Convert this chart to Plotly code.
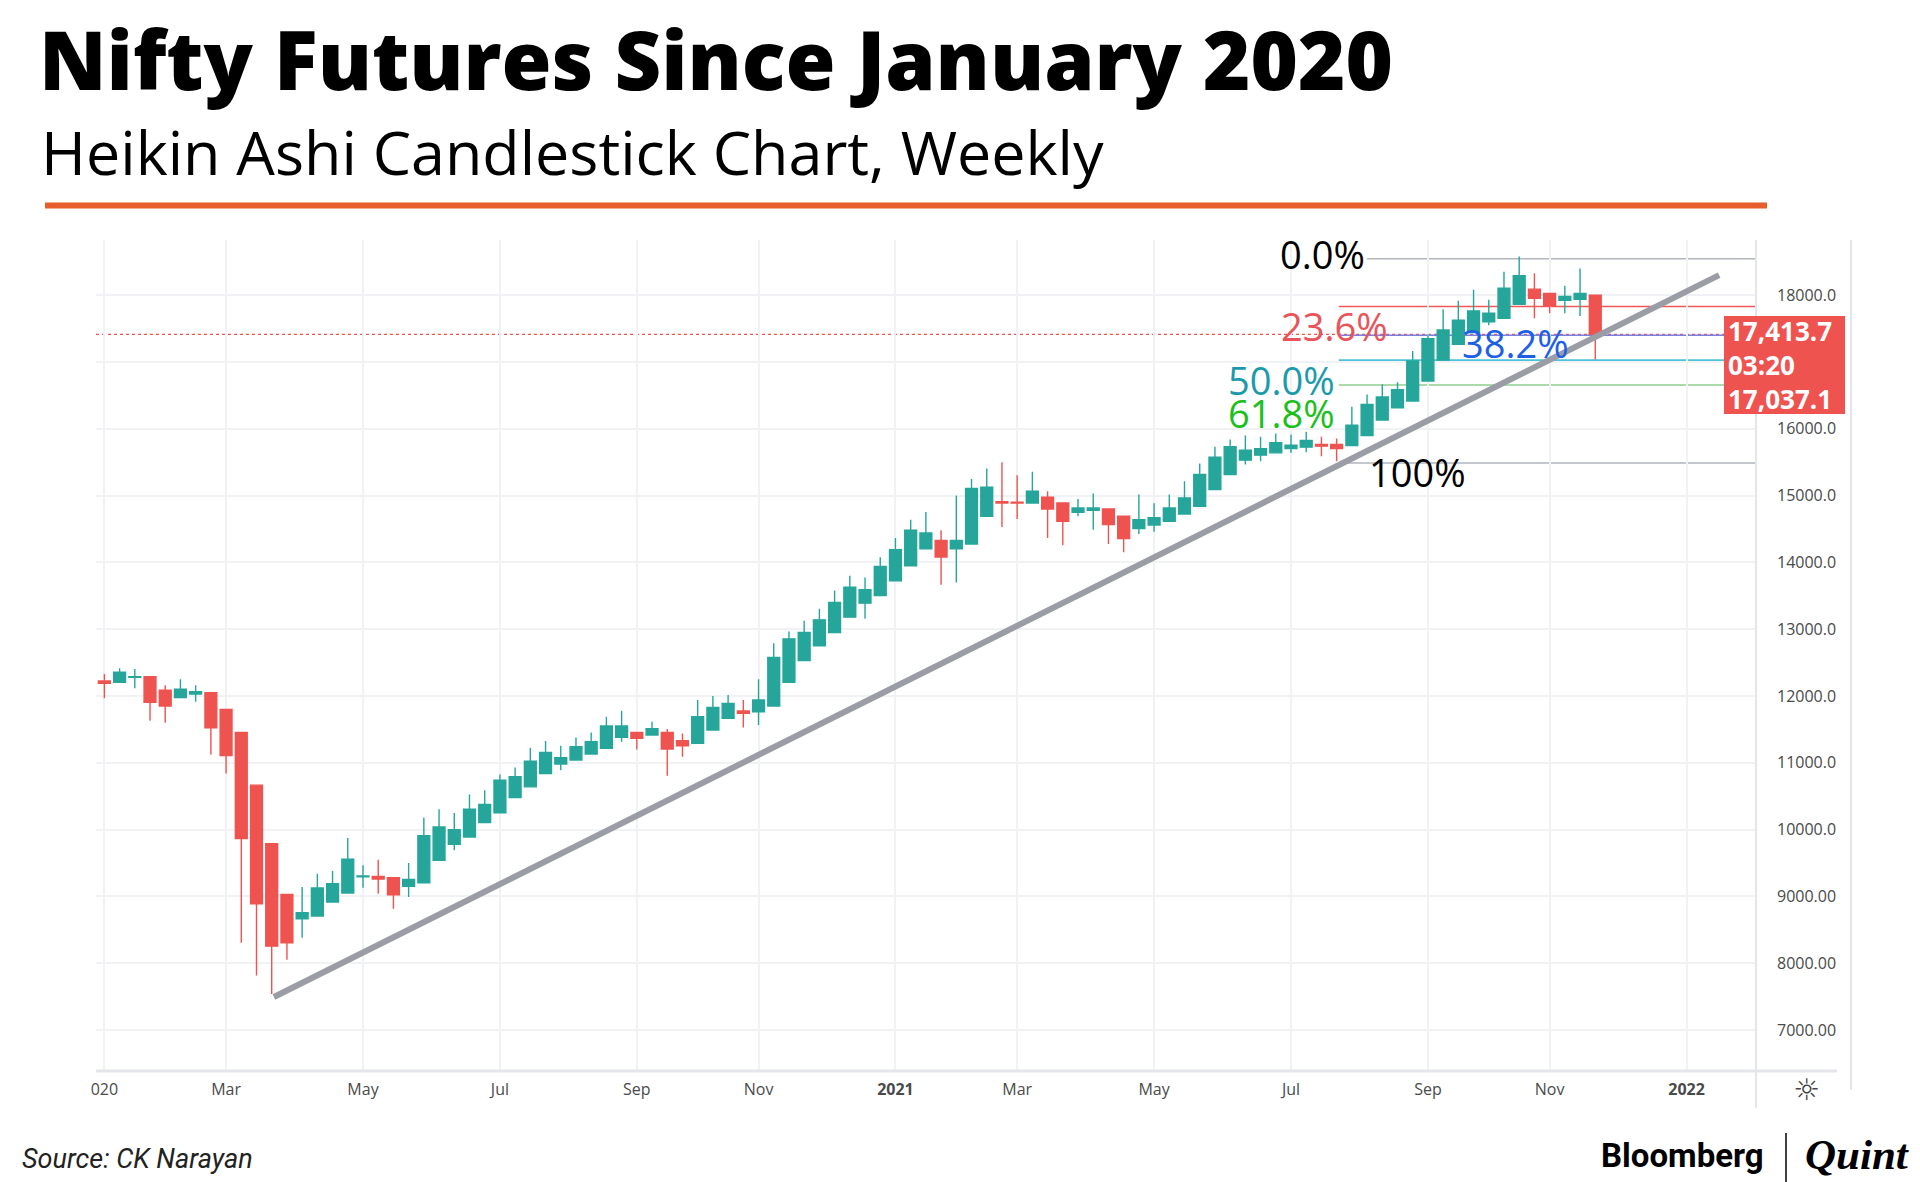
import pandas as pd
import plotly.graph_objects as go

# ---------------- data ----------------
first_week = "2020-01-06"
opens = [12225, 12205, 12280, 12290, 12085, 11975, 12030, 12050, 11800, 11455,
         10665, 9790, 9030, 8665, 8705, 8915, 9050, 9295, 9300, 9280,
         9150, 9205, 9540, 9780, 9890, 10105, 10250, 10480, 10640, 10840,
         10980, 11040, 11130, 11215, 11380, 11455, 11415, 11455, 11330, 11290,
         11490, 11665, 11775, 11765, 11850, 12205, 12530, 12750, 12950, 13180,
         13390, 13505, 13725, 13950, 14205, 14330, 14205, 14275, 14690, 14910,
         14900, 14890, 14975, 14890, 14750, 14780, 14800, 14690, 14505, 14560,
         14615, 14725, 14840, 15090, 15315, 15530, 15605, 15640, 15705, 15725,
         15765, 15765, 15750, 15900, 16130, 16315, 16415, 16715, 17030, 17265,
         17440, 17600, 17655, 17865, 18090, 18025, 17925, 17940, 18000]
highs = [12330, 12415, 12405, 12290, 12160, 12250, 12160, 12050, 11800, 11455,
         10665, 9790, 9030, 9140, 9340, 9380, 9875, 9465, 9550, 9280,
         9500, 10180, 10305, 10250, 10525, 10590, 10825, 10930, 11225, 11325,
         11255, 11380, 11455, 11690, 11780, 11455, 11615, 11505, 11440, 11940,
         12000, 12015, 11940, 12250, 12790, 12965, 13125, 13305, 13580, 13800,
         13775, 14075, 14365, 14640, 14755, 14480, 15000, 15250, 15405, 15500,
         15305, 15355, 15065, 14890, 14950, 15030, 14800, 14690, 15015, 14885,
         15015, 15215, 15480, 15730, 15840, 15900, 15880, 15930, 15915, 15955,
         15880, 15855, 16330, 16515, 16665, 16695, 17165, 17415, 17790, 17915,
         18080, 17930, 18350, 18580, 18330, 18025, 18140, 18400, 18000]
lows = [11965, 12205, 12115, 11630, 11600, 11975, 11915, 11125, 10840, 8305,
        7815, 7540, 8050, 8380, 8705, 8915, 9050, 9130, 9040, 8815,
        8990, 9205, 9540, 9690, 9890, 10105, 10250, 10480, 10640, 10840,
        10890, 11040, 11130, 11215, 11315, 11200, 11415, 10805, 11090, 11290,
        11490, 11665, 11530, 11565, 11850, 12205, 12530, 12750, 12950, 13180,
        13155, 13505, 13725, 13950, 14205, 13665, 13700, 14275, 14690, 14530,
        14650, 14890, 14365, 14255, 14690, 14490, 14275, 14150, 14425, 14460,
        14615, 14725, 14840, 15090, 15315, 15465, 15515, 15640, 15640, 15650,
        15590, 15515, 15750, 15900, 16130, 16315, 16415, 16715, 17030, 17265,
        17440, 17550, 17655, 17865, 17655, 17730, 17730, 17690, 17037.1]
closes = [12190, 12355, 12290, 11905, 11850, 12100, 12065, 11525, 11110, 9865,
          8890, 8255, 8305, 8755, 9125, 9190, 9555, 9305, 9260, 9025,
          9255, 9910, 10040, 10000, 10305, 10375, 10740, 10790, 11025, 11155,
          11075, 11240, 11315, 11550, 11550, 11365, 11510, 11205, 11255, 11690,
          11830, 11890, 11740, 11940, 12575, 12855, 12950, 13140, 13400, 13630,
          13590, 13940, 14190, 14480, 14440, 14080, 14330, 15105, 15125, 14890,
          14890, 15065, 14800, 14615, 14815, 14815, 14565, 14355, 14640, 14670,
          14815, 14965, 15315, 15575, 15730, 15680, 15700, 15790, 15755, 15825,
          15740, 15705, 16055, 16365, 16475, 16585, 17015, 17350, 17480, 17625,
          17765, 17730, 18105, 18290, 17955, 17840, 17980, 18025, 17413.7]

tick_dates = ["2020-01-06", "2020-03-02", "2020-05-04", "2020-07-06", "2020-09-07",
              "2020-11-02", "2021-01-04", "2021-03-01", "2021-05-03", "2021-07-05",
              "2021-09-06", "2021-11-01", "2022-01-03"]
tick_labels = ["020", "Mar", "May", "Jul", "Sep", "Nov", "<b>2021</b>", "Mar", "May",
               "Jul", "Sep", "Nov", "<b>2022</b>"]

price_ticks = [7000, 8000, 9000, 10000, 11000, 12000, 13000, 14000, 15000, 16000, 17000, 18000]
price_tick_labels = ["7000.00", "8000.00", "9000.00", "10000.0", "11000.0", "12000.0",
                     "13000.0", "14000.0", "15000.0", "16000.0", "", "18000.0"]

fib_labels = ["0.0%", "23.6%", "38.2%", "50.0%", "61.8%", "100%"]
fib_values = [18545, 17830, 17400, 17025, 16655, 15488]
fib_start = ["2021-08-09", "2021-07-27", "2021-07-27", "2021-07-27", "2021-07-27", "2021-07-27"]
fib_line_colors = ["#b2b5be", "#f0575c", "#7a7fe0", "#4cc3d9", "#8fcf8f", "#b2b5be"]
fib_text_colors = ["#000000", "#e8545a", "#1d5fe6", "#1a9aac", "#1cbf1c", "#000000"]

trend_dates = ["2020-03-24", "2022-01-18"]
trend_values = [7494, 18300]

last_price = 17413.7
box_lines = ["17,413.7", "03:20", "17,037.1"]

# ---------------- layout helpers (pixel positions) ----------------
W, H = 1920, 1182
L, R, T, B = 96, 1755, 240, 1071


def px(p):
    return (p - L) / (R - L)


def py(p):
    return (B - p) / (B - T)


dates = pd.date_range(first_week, periods=len(opens), freq="7D")
x_start = pd.Timestamp(first_week) - pd.Timedelta(days=3.85)
x_end = pd.Timestamp(first_week) + pd.Timedelta(days=7 * 108.5)

UP, DOWN = "#26a69a", "#ef5350"

fig = go.Figure()
fig.add_trace(go.Candlestick(
    x=dates, open=opens, high=highs, low=lows, close=closes,
    increasing=dict(line=dict(color=UP, width=1.4), fillcolor=UP),
    decreasing=dict(line=dict(color=DOWN, width=1.4), fillcolor=DOWN),
    whiskerwidth=0, showlegend=False, hoverinfo="skip",
))

shapes = []
# price line (dotted red)
shapes.append(dict(type="line", xref="paper", yref="y", x0=0, x1=1,
                   y0=last_price, y1=last_price,
                   line=dict(color="#ef5350", width=1.4, dash="dot"), layer="below"))
# fib lines
for v, s, c in zip(fib_values, fib_start, fib_line_colors):
    shapes.append(dict(type="line", xref="x", yref="y", x0=s, x1=x_end, y0=v, y1=v,
                       line=dict(color=c, width=2 if c == "#4cc3d9" else 1.6), layer="below"))
# trend line
shapes.append(dict(type="line", xref="x", yref="y",
                   x0=trend_dates[0], x1=trend_dates[1],
                   y0=trend_values[0], y1=trend_values[1],
                   line=dict(color="#9a9ca6", width=6), layer="above"))
# orange rule under title
shapes.append(dict(type="rect", xref="paper", yref="paper",
                   x0=px(45), x1=px(1767), y0=py(208.5), y1=py(202.5),
                   fillcolor="#e85d2c", line=dict(width=0)))
# bottom axis line
shapes.append(dict(type="line", xref="paper", yref="paper",
                   x0=px(96), x1=px(1837), y0=py(1071), y1=py(1071),
                   line=dict(color="#e3e5ea", width=3)))
# vertical borders
shapes.append(dict(type="line", xref="paper", yref="paper",
                   x0=px(1756), x1=px(1756), y0=py(240), y1=py(1108),
                   line=dict(color="#e3e5ea", width=2)))
shapes.append(dict(type="line", xref="paper", yref="paper",
                   x0=px(1851), x1=px(1851), y0=py(240), y1=py(1090),
                   line=dict(color="#e3e5ea", width=2)))
# price label box
shapes.append(dict(type="rect", xref="paper", yref="paper",
                   x0=px(1724), x1=px(1845), y0=py(414), y1=py(316),
                   fillcolor="#ef5350", line=dict(width=0), layer="above"))
# logo separator
shapes.append(dict(type="line", xref="paper", yref="paper",
                   x0=px(1786), x1=px(1786), y0=py(1133), y1=py(1182),
                   line=dict(color="#000000", width=1.5)))

ann = []
ann.append(dict(text="Nifty Futures Since January 2020", x=px(37), y=py(58),
                xanchor="left", yanchor="middle",
                font=dict(family="Open Sans", size=81, color="#000000", weight=800)))
ann.append(dict(text="Heikin Ashi Candlestick Chart, Weekly", x=px(39), y=py(151),
                xanchor="left", yanchor="middle",
                font=dict(family="Open Sans", size=61, color="#000000")))

fib_pos = [(1322, 254), (1334, 326), (1515, 343), (1281, 380), (1281, 413), (1417, 472)]
for t, c, (xx, yy) in zip(fib_labels, fib_text_colors, fib_pos):
    ann.append(dict(text=t, x=px(xx), y=py(yy), xanchor="center", yanchor="middle",
                    font=dict(family="Open Sans", size=38, color=c, weight=500)))

ann.append(dict(text="<br>".join(box_lines), x=px(1726), y=py(365), xanchor="left",
                yanchor="middle", align="left",
                font=dict(family="Open Sans", size=26, color="#ffffff", weight=700)))

ann.append(dict(text="☼", x=px(1807), y=py(1089), xanchor="center", yanchor="middle",
                font=dict(family="DejaVu Sans", size=30, color="#444444")))
ann.append(dict(text="<i>Source: CK Narayan</i>", x=px(20), y=py(1159), xanchor="left",
                yanchor="middle",
                font=dict(family="Liberation Sans Narrow, Roboto", size=27, color="#222222")))
ann.append(dict(text="<b>Bloomberg</b>", x=px(1766), y=py(1155), xanchor="right",
                yanchor="middle", font=dict(family="Roboto", size=33, color="#000000")))
ann.append(dict(text="<b><i>Quint</i></b>", x=px(1803), y=py(1154), xanchor="left",
                yanchor="middle", font=dict(family="Liberation Serif", size=43, color="#000000")))

for a in ann:
    a.update(xref="paper", yref="paper", showarrow=False)

fig.update_layout(
    width=W, height=H,
    margin=dict(l=L, r=W - R, t=T, b=H - B, pad=0),
    paper_bgcolor="#ffffff", plot_bgcolor="#ffffff",
    boxgap=0.22, boxgroupgap=0,
    shapes=shapes, annotations=ann,
    showlegend=False,
    xaxis=dict(type="date", range=[x_start, x_end], rangeslider=dict(visible=False),
               tickvals=tick_dates, ticktext=tick_labels, ticks="",
               showgrid=True, gridcolor="#f0f2f6", gridwidth=1.5,
               zeroline=False, showline=False, ticklabelstandoff=7,
               tickfont=dict(family="Open Sans", size=16, color="#4a4a4a")),
    yaxis=dict(side="right", range=[6386, 18826], tickvals=price_ticks,
               ticktext=price_tick_labels, ticks="", showgrid=True,
               gridcolor="#f0f2f6", gridwidth=1.5, zeroline=False, showline=False,
               ticklabelstandoff=21,
               tickfont=dict(family="Open Sans", size=16, color="#4a4a4a")),
)

fig.write_html("out.html", config={"displayModeBar": False},
               post_script="document.body.style.margin='0';document.body.style.overflow='hidden';")
